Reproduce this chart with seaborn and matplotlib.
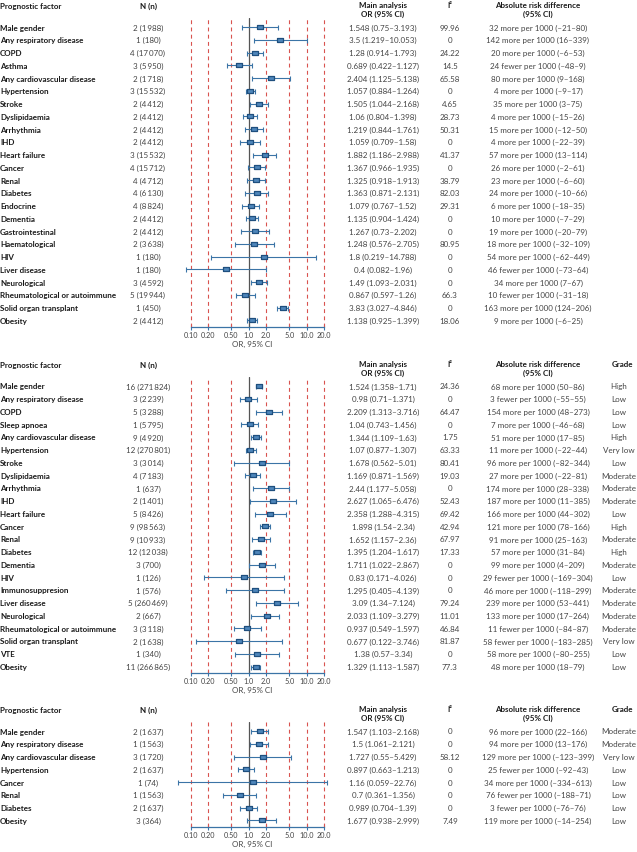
import numpy as np
import matplotlib
matplotlib.use("Agg")
import matplotlib.pyplot as plt
import matplotlib.transforms as mtransforms
import seaborn as sns

# ------------------------------------------------------------
# Data: panel 1
# ------------------------------------------------------------
p1_factors = ["Male gender", "Any respiratory disease", "COPD", "Asthma",
              "Any cardiovascular disease", "Hypertension", "Stroke", "Dyslipidaemia",
              "Arrhythmia", "IHD", "Heart failure", "Cancer", "Renal", "Diabetes",
              "Endocrine", "Dementia", "Gastrointestinal", "Haematological", "HIV",
              "Liver disease", "Neurological", "Rheumatological or autoimmune",
              "Solid organ transplant", "Obesity"]
p1_studies = [2, 1, 4, 3, 2, 3, 2, 2, 2, 2, 3, 4, 4, 4, 4, 2, 2, 2, 1, 1, 3, 5, 1, 2]
p1_people = [1988, 180, 17070, 5950, 1718, 15532, 4412, 4412, 4412, 4412, 15532, 15712,
             4712, 6130, 8824, 4412, 4412, 3638, 180, 180, 4592, 19944, 450, 4412]
p1_or = [1.548, 3.5, 1.28, 0.689, 2.404, 1.057, 1.505, 1.06, 1.219, 1.059, 1.882, 1.367,
         1.325, 1.363, 1.079, 1.135, 1.267, 1.248, 1.8, 0.4, 1.49, 0.867, 3.83, 1.138]
p1_lo = [0.75, 1.219, 0.914, 0.422, 1.125, 0.884, 1.044, 0.804, 0.844, 0.709, 1.186, 0.966,
         0.918, 0.871, 0.767, 0.904, 0.73, 0.576, 0.219, 0.082, 1.093, 0.597, 3.027, 0.925]
p1_hi = [3.193, 10.053, 1.793, 1.127, 5.138, 1.264, 2.168, 1.398, 1.761, 1.58, 2.988, 1.935,
         1.913, 2.131, 1.52, 1.424, 2.202, 2.705, 14.788, 1.96, 2.031, 1.26, 4.846, 1.399]
p1_i2 = [99.96, 0, 24.22, 14.5, 65.58, 0, 4.65, 28.73, 50.31, 0, 41.37, 0, 38.79, 82.03,
         29.31, 0, 0, 80.95, 0, 0, 0, 66.3, 0, 18.06]
p1_ard = [32, 142, 20, -24, 80, 4, 35, 4, 15, 4, 57, 26, 23, 24, 6, 10, 19, 18, 54, -46,
          34, -10, 163, 9]
p1_ard_lo = [-21, 16, -6, -48, 9, -9, 3, -15, -12, -22, 13, -2, -6, -10, -18, -7, -20, -32,
             -62, -73, 7, -31, 124, -6]
p1_ard_hi = [80, 339, 53, 9, 168, 17, 75, 26, 50, 39, 114, 61, 60, 66, 35, 29, 79, 109,
             449, 64, 67, 18, 206, 25]

# ------------------------------------------------------------
# Data: panel 2
# ------------------------------------------------------------
p2_factors = ["Male gender", "Any respiratory disease", "COPD", "Sleep apnoea",
              "Any cardiovascular disease", "Hypertension", "Stroke", "Dyslipidaemia",
              "Arrhythmia", "IHD", "Heart failure", "Cancer", "Renal", "Diabetes",
              "Dementia", "HIV", "Immunosuppresion", "Liver disease", "Neurological",
              "Rheumatological or autoimmune", "Solid organ transplant", "VTE", "Obesity"]
p2_studies = [16, 3, 5, 1, 9, 12, 3, 4, 1, 2, 5, 9, 9, 12, 3, 1, 1, 5, 2, 3, 2, 1, 11]
p2_people = [271824, 2239, 3288, 5795, 4920, 270801, 3014, 7183, 637, 1401, 8426, 98563,
             10933, 12038, 700, 126, 576, 260469, 667, 3118, 1638, 340, 266865]
p2_or = [1.524, 0.98, 2.209, 1.04, 1.344, 1.07, 1.678, 1.169, 2.44, 2.627, 2.358, 1.898,
         1.652, 1.395, 1.711, 0.83, 1.295, 3.09, 2.033, 0.937, 0.677, 1.38, 1.329]
p2_lo = [1.358, 0.71, 1.313, 0.743, 1.109, 0.877, 0.562, 0.871, 1.177, 1.065, 1.288, 1.54,
         1.157, 1.204, 1.022, 0.171, 0.405, 1.34, 1.109, 0.549, 0.122, 0.57, 1.113]
p2_hi = [1.71, 1.371, 3.716, 1.456, 1.63, 1.307, 5.01, 1.569, 5.058, 6.476, 4.315, 2.34,
         2.36, 1.617, 2.867, 4.026, 4.139, 7.124, 3.279, 1.597, 3.746, 3.34, 1.587]
p2_i2 = [24.36, 0, 64.47, 0, 1.75, 63.33, 80.41, 19.03, 0, 52.43, 69.42, 42.94, 67.97,
         17.33, 0, 0, 0, 79.24, 11.01, 46.84, 81.87, 0, 77.3]
p2_ard = [68, -3, 154, 7, 51, 11, 96, 27, 174, 187, 166, 121, 91, 57, 99, -29, 46, 239,
          133, -11, -58, 58, 48]
p2_ard_lo = [50, -55, 48, -46, 17, -22, -82, -22, 28, 11, 44, 78, 25, 31, 4, -169, -118,
             53, 17, -84, -183, -80, 18]
p2_ard_hi = [86, 55, 273, 68, 85, 44, 344, 81, 338, 385, 302, 166, 163, 84, 209, 304, 299,
             441, 264, 87, 285, 255, 79]
p2_grade = ["High", "Low", "Low", "Low", "High", "Very low", "Low", "Moderate", "Moderate",
            "Moderate", "Low", "High", "Moderate", "High", "Moderate", "Low", "Moderate",
            "Moderate", "Moderate", "Moderate", "Very low", "Low", "Low"]

# ------------------------------------------------------------
# Data: panel 3
# ------------------------------------------------------------
p3_factors = ["Male gender", "Any respiratory disease", "Any cardiovascular disease",
              "Hypertension", "Cancer", "Renal", "Diabetes", "Obesity"]
p3_studies = [2, 1, 3, 2, 1, 1, 2, 3]
p3_people = [1637, 1563, 1720, 1637, 74, 1563, 1637, 364]
p3_or = [1.547, 1.5, 1.727, 0.897, 1.16, 0.7, 0.989, 1.677]
p3_lo = [1.103, 1.061, 0.55, 0.663, 0.059, 0.361, 0.704, 0.938]
p3_hi = [2.168, 2.121, 5.429, 1.213, 22.76, 1.356, 1.39, 2.999]
p3_i2 = [0, 0, 58.12, 0, 0, 0, 0, 7.49]
p3_ard = [96, 94, 129, -25, 34, -76, -3, 119]
p3_ard_lo = [22, 13, -123, -92, -334, -188, -76, -14]
p3_ard_hi = [166, 176, 399, 43, 613, 71, 76, 254]
p3_grade = ["Moderate", "Moderate", "Very low", "Low", "Low", "Low", "Low", "Low"]

tick_values = [0.1, 0.2, 0.5, 1.0, 2.0, 5.0, 10.0, 20.0]
tick_labels = ["0.10", "0.20", "0.50", "1.0", "2.0", "5.0", "10.0", "20.0"]

# ------------------------------------------------------------
# Styling
# ------------------------------------------------------------
sns.set_theme(style="white")
plt.rcParams["font.family"] = ["Lato", "DejaVu Sans"]

W, H = 637, 853
FS = 5.8
BLUE = "#3b74a6"
BOX_FACE = "#4f86bb"
BOX_EDGE = "#1f4f7e"
RED = "#d9534f"
TXT = "#1a1a1a"
VAL = "#444444"
ROW = 12.75

# x mapping of the log axis (pixel position of 0.1 and px per decade)
X01, DEC = 191.0, 57.8
AX_L, AX_R = 168, 336

COL_N, COL_OR, COL_I2, COL_ARD, COL_GRADE = 148, 383, 450, 538, 619

box = [(-1.5, -1), (1.5, -1), (1.5, 1), (-1.5, 1), (-1.5, -1)]


def px_to_or(px):
    return 10 ** ((px - X01) / DEC - 1)


def fmt_n(s, n):
    txt = f"{n:,}".replace(",", "\u2009")
    return f"{s} ({txt})"


def fmt_num(v):
    return f"{v:g}".replace("-", "\u2013")


def fmt_ard(m, lo, hi):
    word = "more" if m >= 0 else "fewer"
    return f"{abs(m)} {word} per 1000 ({fmt_num(lo)}\u2013{fmt_num(hi)})"


fig = plt.figure(figsize=(W / 100, H / 100), dpi=100)


def draw_panel(first_px, factors, studies, people, ors, los, his, i2s,
               ard, ard_lo, ard_hi, grades=None):
    n = len(factors)
    top = first_px - 0.7 * ROW
    bottom = first_px + (n - 1) * ROW + 0.5 * ROW
    ax = fig.add_axes([AX_L / W, 1 - bottom / H, (AX_R - AX_L) / W, (bottom - top) / H])
    ax.set_xscale("log")
    ax.set_xlim(px_to_or(AX_L), px_to_or(AX_R))
    ax.set_ylim(n - 1 + 0.5, -0.7)

    for v in tick_values:
        if v == 1.0:
            ax.axvline(v, color="#555555", lw=0.9, zorder=1)
        else:
            ax.axvline(v, color=RED, lw=0.8, ls=(0, (3.5, 3)), zorder=1)

    ys = np.arange(n)
    ors = np.array(ors)
    ax.errorbar(ors, ys, xerr=[ors - np.array(los), np.array(his) - ors], fmt="none",
                ecolor=BLUE, elinewidth=0.8, capsize=1.8, capthick=0.8, zorder=2)
    sns.scatterplot(x=ors, y=ys, marker=box, s=14, color=BOX_FACE, edgecolor=BOX_EDGE,
                    linewidth=0.9, ax=ax, zorder=3, legend=False)

    for side in ["left", "top", "right"]:
        ax.spines[side].set_visible(False)
    ax.spines["bottom"].set_color(BLUE)
    ax.spines["bottom"].set_linewidth(0.9)
    ax.spines["bottom"].set_bounds(0.1, 20)
    ax.set_xticks(tick_values)
    ax.set_xticklabels(tick_labels)
    ax.minorticks_off()
    ax.tick_params(axis="x", bottom=True, direction="inout", length=4, width=0.8,
                   color=BLUE, labelsize=5.2, labelcolor=VAL, pad=1)
    ax.set_yticks([])
    ax.set_xlabel("OR, 95% CI", fontsize=FS, color=VAL, labelpad=1.5)
    ax.set_ylabel("")
    ax.patch.set_alpha(0)

    tr = mtransforms.blended_transform_factory(fig.transFigure, ax.transData)

    def put(xpx, y, s, ha="center", **kw):
        ax.text(xpx / W, y, s, transform=tr, ha=ha, va="center", fontsize=FS,
                clip_on=False, **kw)

    hy = -1.7
    put(0, hy, "Prognostic factor", ha="left", color=TXT, fontweight="bold")
    put(COL_N, hy, "N (n)", color=TXT, fontweight="bold")
    put(COL_OR, hy - 0.05, "Main analysis", color=TXT, fontweight="bold")
    put(COL_OR, hy + 0.65, "OR (95% CI)", color=TXT, fontweight="bold")
    put(COL_I2, hy - 0.05, "I\u00b2", color=TXT, fontweight="bold")
    put(COL_ARD, hy - 0.05, "Absolute risk difference", color=TXT, fontweight="bold")
    put(COL_ARD, hy + 0.65, "(95% CI)", color=TXT, fontweight="bold")
    if grades is not None:
        put(COL_GRADE + 4, hy - 0.05, "Grade", color=TXT, fontweight="bold")

    for i in range(n):
        put(0, i, factors[i], ha="left", color=TXT, fontweight="bold")
        put(COL_N, i, fmt_n(studies[i], people[i]), color=VAL)
        put(COL_OR, i, f"{fmt_num(ors[i])} ({fmt_num(los[i])}\u2013{fmt_num(his[i])})",
            color=VAL)
        put(COL_I2, i, fmt_num(i2s[i]), color=VAL)
        put(COL_ARD, i, fmt_ard(ard[i], ard_lo[i], ard_hi[i]), color=VAL)
        if grades is not None:
            put(COL_GRADE, i, grades[i], color=VAL)
    return ax


draw_panel(28, p1_factors, p1_studies, p1_people, p1_or, p1_lo, p1_hi, p1_i2,
           p1_ard, p1_ard_lo, p1_ard_hi)
draw_panel(387, p2_factors, p2_studies, p2_people, p2_or, p2_lo, p2_hi, p2_i2,
           p2_ard, p2_ard_lo, p2_ard_hi, p2_grade)
draw_panel(732, p3_factors, p3_studies, p3_people, p3_or, p3_lo, p3_hi, p3_i2,
           p3_ard, p3_ard_lo, p3_ard_hi, p3_grade)

fig.savefig("out.png", dpi=100)
